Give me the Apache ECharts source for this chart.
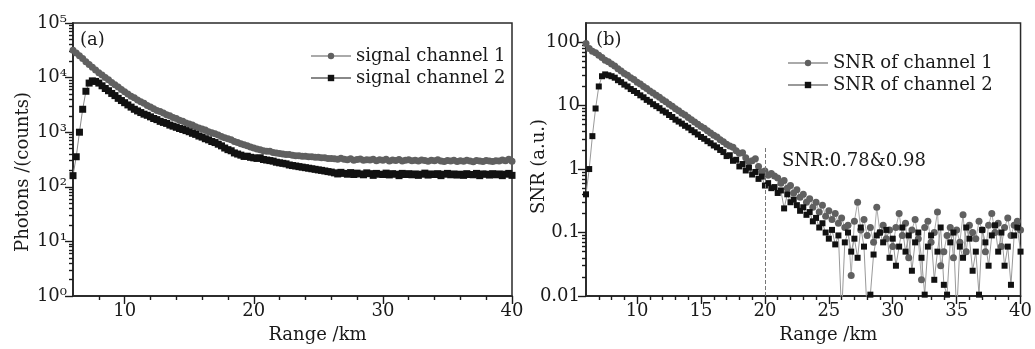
<!DOCTYPE html>
<html>
<head>
<meta charset="utf-8">
<title>Photon counts and SNR versus range</title>
<script src="https://cdn.jsdelivr.net/npm/echarts@6/dist/echarts.min.js"></script>
<style>
  html, body { margin: 0; padding: 0; background: #fff; }
  #chart { width: 1035px; height: 349px; }
</style>
</head>
<body>
<div id="chart"></div>
<script>
// range bins (km), one row per km
const rangeKm = [
  6, 6.25, 6.5, 6.75,   7, 7.25, 7.5, 7.75,   8, 8.25, 8.5, 8.75,   9, 9.25, 9.5, 9.75,
  10, 10.25, 10.5, 10.75, 11, 11.25, 11.5, 11.75, 12, 12.25, 12.5, 12.75, 13, 13.25, 13.5, 13.75,
  14, 14.25, 14.5, 14.75, 15, 15.25, 15.5, 15.75, 16, 16.25, 16.5, 16.75, 17, 17.25, 17.5, 17.75,
  18, 18.25, 18.5, 18.75, 19, 19.25, 19.5, 19.75, 20, 20.25, 20.5, 20.75, 21, 21.25, 21.5, 21.75,
  22, 22.25, 22.5, 22.75, 23, 23.25, 23.5, 23.75, 24, 24.25, 24.5, 24.75, 25, 25.25, 25.5, 25.75,
  26, 26.25, 26.5, 26.75, 27, 27.25, 27.5, 27.75, 28, 28.25, 28.5, 28.75, 29, 29.25, 29.5, 29.75,
  30, 30.25, 30.5, 30.75, 31, 31.25, 31.5, 31.75, 32, 32.25, 32.5, 32.75, 33, 33.25, 33.5, 33.75,
  34, 34.25, 34.5, 34.75, 35, 35.25, 35.5, 35.75, 36, 36.25, 36.5, 36.75, 37, 37.25, 37.5, 37.75,
  38, 38.25, 38.5, 38.75, 39, 39.25, 39.5, 39.75, 40
];

// (a) photon counts
const photonsCh1 = [
  31600, 28200, 25100, 22400,  19500, 17400, 15500, 13800,  12300, 11200, 10000, 9120,  8130, 7410, 6760, 6030,
  5500, 5010, 4570, 4270,  3890, 3630, 3390, 3090,  2880, 2690, 2510, 2400,  2240, 2090, 2000, 1860,
  1780, 1660, 1580, 1480,  1410, 1350, 1260, 1200,  1150, 1100, 1020, 977,  933, 891, 832, 794,
  759, 724, 676, 646,  617, 589, 562, 537,  513, 490, 479, 457,  447, 450, 427, 417,
  407, 398, 390, 389,  380, 372, 372, 363,  363, 355, 355, 347,  347, 339, 339, 331,
  331, 328, 320, 332,  318, 312, 325, 308,  316, 322, 305, 314,  309, 320, 300, 312,
  306, 318, 298, 310,  304, 315, 296, 308,  312, 300, 305, 296,  310, 302, 294, 306,
  300, 312, 298, 292,  304, 296, 308, 290,  300, 294, 305, 298,  288, 302, 296, 292,
  304, 298, 290, 300,  296, 310, 300, 318,  295
];
const photonsCh2 = [
  160, 355, 1000, 2630,  5620, 7940, 8710, 8510,  7940, 7080, 6310, 5750,  5130, 4680, 4170, 3800,
  3470, 3160, 2880, 2630,  2450, 2290, 2140, 2040,  1910, 1780, 1700, 1580,  1510, 1450, 1350, 1290,
  1230, 1170, 1120, 1070,  1020, 955, 912, 851,  813, 759, 724, 676,  646, 603, 562, 513,
  479, 457, 417, 398,  380, 360, 363, 347,  339, 331, 340, 316,  309, 302, 295, 282,
  275, 269, 263, 251,  245, 240, 234, 229,  224, 219, 214, 209,  204, 200, 195, 190,
  186, 180, 172, 184,  176, 170, 182, 168,  178, 172, 166, 180,  174, 162, 176, 170,
  168, 178, 165, 174,  170, 160, 176, 168,  174, 166, 172, 162,  170, 178, 164, 172,
  168, 174, 160, 170,  176, 166, 172, 164,  170, 162, 174, 168,  166, 176, 160, 172,
  170, 164, 174, 166,  172, 160, 170, 176,  162
];

// (b) signal to noise ratio
const snrCh1 = [
  95, 79, 72, 68,  62, 57, 52, 49,  45, 42, 38, 35,  32, 30, 27.5, 25.7,
  23.4, 21.9, 20.0, 18.6,  17.0, 15.8, 14.5, 13.5,  12.3, 11.5, 10.5, 9.8,  8.9, 8.3, 7.6, 7.1,
  6.5, 6.0, 5.5, 5.1,  4.7, 4.4, 4.0, 3.7,  3.4, 3.2, 2.9, 2.7,  2.45, 2.3, 2.2, 1.95,
  1.78, 1.8, 1.51, 1.3,  1.35, 1.45, 1.1, 0.9,  0.93, 0.8, 0.85, 0.78,  0.72, 0.6, 0.66, 0.5,
  0.55, 0.42, 0.47, 0.36,  0.4, 0.3, 0.34, 0.25,  0.3, 0.21, 0.27, 0.18,  0.22, 0.16, 0.2, 0.14,
  0.17, 0.12, 0.13, 0.021,  0.15, 0.3, 0.11, 0.16,  0.09, 0.12, 0.07, 0.25,  0.1, 0.13, 0.08, 0.11,
  0.06, 0.12, 0.2, 0.09,  0.14, 0.04, 0.11, 0.16,  0.08, 0.018, 0.12, 0.15,  0.07, 0.1, 0.21, 0.03,
  0.05, 0.09, 0.12, 0.04,  0.11, 0.07, 0.19, 0.05,  0.13, 0.1, 0.08, 0.15,  0.11, 0.05, 0.13, 0.2,
  0.1, 0.14, 0.06, 0.12,  0.17, 0.09, 0.13, 0.15,  0.11
];
const snrCh2 = [
  0.4, 1.0, 3.3, 9,  20, 29, 31, 30,  29, 27.5, 25.1, 23.4,  21.4, 20.0, 18.2, 17.0,
  15.8, 14.5, 13.5, 12.3,  11.5, 10.5, 9.8, 9.1,  8.3, 7.8, 7.1, 6.6,  6.0, 5.6, 5.2, 4.8,
  4.5, 4.1, 3.8, 3.5,  3.2, 3.0, 2.75, 2.55,  2.35, 2.2, 2.0, 1.85,  1.6, 1.65, 1.35, 1.4,
  1.1, 1.2, 0.95, 1.05,  0.82, 0.9, 0.7, 0.76,  0.55, 0.6, 0.5, 0.52,  0.42, 0.46, 0.24, 0.4,
  0.3, 0.33, 0.27, 0.22,  0.25, 0.19, 0.21, 0.15,  0.17, 0.12, 0.14, 0.1,  0.08, 0.11, 0.065, 0.09,
  0.005, 0.07, 0.1, 0.05,  0.08, 0.04, 0.12, 0.06,  0.005, 0.0105, 0.045, 0.09,  0.1, 0.07, 0.11, 0.04,
  0.08, 0.03, 0.06, 0.12,  0.05, 0.09, 0.025, 0.07,  0.1, 0.04, 0.0105, 0.06,  0.09, 0.018, 0.05, 0.12,
  0.015, 0.0105, 0.07, 0.1,  0.005, 0.06, 0.04, 0.12,  0.08, 0.025, 0.05, 0.0105,  0.11, 0.07, 0.03, 0.09,
  0.13, 0.05, 0.1, 0.03,  0.06, 0.015, 0.09, 0.12,  0.05
];

// tick labels
const xMajorA = [10, 20, 30, 40];
const xMinorA = [8, 12, 14, 16, 18, 22, 24, 26, 28, 32, 34, 36, 38];
const xMajorB = [10, 15, 20, 25, 30, 35, 40];
const xMinorB = [7, 8, 9, 11, 12, 13, 14, 16, 17, 18, 19, 21, 22, 23, 24, 26, 27, 28, 29, 31, 32, 33, 34, 36, 37, 38, 39];

const FONT = '"DejaVu Serif", "Liberation Serif", serif';
const INK = '#1a1a1a';
const SUP = ['\u2070', '\u00b9', '\u00b2', '\u00b3', '\u2074', '\u2075'];

const pairs = ys => rangeKm.map((x, i) => [x, ys[i]]);

// minor tick positions (log10) for the overlay axes of the log plots
function logMinor(fromExp, toExp, top) {
  const out = [];
  for (let e = fromExp; e < toExp; e++) {
    for (let k = 2; k <= 9; k++) {
      const v = k * Math.pow(10, e);
      if (v < top) out.push(Math.log10(v));
    }
  }
  return out;
}

const labelStyle = () => ({ fontFamily: FONT, fontSize: 18, color: INK });
const frameLine = () => ({ show: true, onZero: false, lineStyle: { color: '#2a2a2a', width: 1.5 } });
// inside: true alone still drew the ticks outward here, so the length is negated to point them into the plot
const ticks = (len, values) => {
  const t = { show: true, inside: true, length: -len, lineStyle: { color: '#1a1a1a', width: 1.4 } };
  if (values) t.customValues = values;
  return t;
};

function xMain(grid, major) {
  return {
    gridIndex: grid, type: 'value', min: 6, max: 40, position: 'bottom',
    axisLine: frameLine(), splitLine: { show: false },
    axisTick: ticks(8, major),
    axisLabel: Object.assign({ customValues: major, margin: 6 }, labelStyle()),
    name: 'Range /km', nameLocation: 'middle', nameGap: 30, nameMoveOverlap: false,
    nameTextStyle: Object.assign({ padding: [0, 0, 0, 50] }, labelStyle())
  };
}
function xMinor(grid, minor) {
  return {
    gridIndex: grid, type: 'value', min: 6, max: 40, position: 'bottom',
    axisLine: frameLine(), splitLine: { show: false }, axisLabel: { show: false },
    axisTick: ticks(4, minor)
  };
}
function yMinor(grid, min, max, minor) {
  return {
    gridIndex: grid, type: 'value', min: min, max: max, position: 'left',
    axisLine: frameLine(), splitLine: { show: false }, axisLabel: { show: false },
    axisTick: ticks(4, minor)
  };
}

const chart = echarts.init(document.getElementById('chart'));

chart.setOption({
  animation: false,
  backgroundColor: '#fff',
  title: [
    { text: '(a)', left: 75, top: 26, textStyle: { fontFamily: FONT, fontSize: 18, fontWeight: 'normal', color: INK } },
    { text: '(b)', left: 591, top: 26, textStyle: { fontFamily: FONT, fontSize: 18, fontWeight: 'normal', color: INK } }
  ],
  grid: [
    { left: 73, top: 23, width: 439, height: 279, show: true, borderColor: '#2a2a2a', borderWidth: 1.5 },
    { left: 586, top: 23, width: 439, height: 279, show: true, borderColor: '#2a2a2a', borderWidth: 1.5 }
  ],
  legend: [
    {
      data: ['signal channel 1', 'signal channel 2'], orient: 'vertical', left: 305, top: 42,
      itemWidth: 40, itemHeight: 8, itemGap: 4, selectedMode: false, textStyle: labelStyle()
    },
    {
      data: ['SNR of channel 1', 'SNR of channel 2'], orient: 'vertical', left: 782, top: 49,
      itemWidth: 40, itemHeight: 8, itemGap: 4, selectedMode: false, textStyle: labelStyle()
    }
  ],
  xAxis: [xMain(0, xMajorA), xMinor(0, xMinorA), xMain(1, xMajorB), xMinor(1, xMinorB)],
  yAxis: [
    {
      gridIndex: 0, type: 'log', logBase: 10, min: 1, max: 100000, position: 'left',
      axisLine: frameLine(), splitLine: { show: false },
      axisTick: ticks(8),
      axisLabel: Object.assign({
        margin: 6,
        formatter: v => '10' + SUP[Math.round(Math.log10(v))]
      }, labelStyle()),
      name: 'Photons /(counts)', nameLocation: 'middle', nameGap: 41, nameMoveOverlap: false,
      nameTextStyle: Object.assign({ padding: [0, 25, 0, 0] }, labelStyle())
    },
    yMinor(0, 0, 5, logMinor(0, 5, 1e5)),
    {
      gridIndex: 1, type: 'log', logBase: 10, min: 0.01, max: 200, position: 'left',
      axisLine: frameLine(), splitLine: { show: false },
      axisTick: ticks(8),
      axisLabel: Object.assign({ margin: 6, showMaxLabel: false, formatter: v => String(v) }, labelStyle()),
      name: 'SNR (a.u.)', nameLocation: 'middle', nameGap: 38, nameMoveOverlap: false,
      nameTextStyle: Object.assign({ padding: [0, 14, 0, 0] }, labelStyle())
    },
    yMinor(1, -2, Math.log10(200), logMinor(-2, 3, 200))
  ],
  series: [
    {
      name: 'signal channel 1', type: 'line', xAxisIndex: 0, yAxisIndex: 0,
      data: pairs(photonsCh1), symbol: 'circle', symbolSize: 7, showSymbol: true, showAllSymbol: true,
      itemStyle: { color: '#606060' }, lineStyle: { color: '#aaa', width: 1 }
    },
    {
      name: 'signal channel 2', type: 'line', xAxisIndex: 0, yAxisIndex: 0,
      data: pairs(photonsCh2), symbol: 'rect', symbolSize: 7, showSymbol: true, showAllSymbol: true,
      itemStyle: { color: '#111' }, lineStyle: { color: '#888', width: 1 }
    },
    {
      name: 'SNR of channel 1', type: 'line', xAxisIndex: 2, yAxisIndex: 2,
      data: pairs(snrCh1), symbol: 'circle', symbolSize: 7, showSymbol: true, showAllSymbol: true,
      itemStyle: { color: '#606060' }, lineStyle: { color: '#aaa', width: 1 },
      markLine: {
        silent: true, symbol: ['none', 'none'], label: { show: false },
        lineStyle: { type: 'dashed', color: '#777', width: 1 },
        data: [[{ coord: [20, 0.01] }, { coord: [20, 2.3] }]]
      }
    },
    {
      name: 'SNR of channel 2', type: 'line', xAxisIndex: 2, yAxisIndex: 2,
      data: pairs(snrCh2), symbol: 'rect', symbolSize: 6, showSymbol: true, showAllSymbol: true,
      itemStyle: { color: '#111' }, lineStyle: { color: '#999', width: 1 }
    }
  ],
  graphic: [
    {
      type: 'text', left: 782, top: 152,
      style: { text: 'SNR:0.78&0.98', font: '18px ' + FONT, fill: INK }
    }
  ]
});
</script>
</body>
</html>
